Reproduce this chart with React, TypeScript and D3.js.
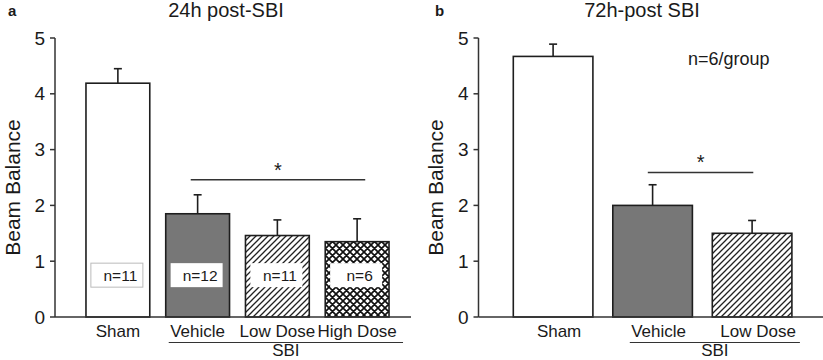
import React from "react";
import * as d3 from "d3";

const panelACategories = ["Sham", "Vehicle", "Low Dose", "High Dose"];
const panelAMeans = [4.19, 1.85, 1.46, 1.35];
const panelAErrors = [0.26, 0.34, 0.28, 0.41];
const panelANLabels = ["n=11", "n=12", "n=11", "n=6"];
const panelAFills = ["white", "gray", "hatch", "cross"];

const panelBCategories = ["Sham", "Vehicle", "Low Dose"];
const panelBMeans = [4.67, 2.0, 1.5];
const panelBErrors = [0.22, 0.37, 0.23];
const panelBFills = ["white", "gray", "hatch"];

const yTicks = [0, 1, 2, 3, 4, 5];

const fillOf = (f: string) =>
  f === "white" ? "#ffffff" : f === "gray" ? "#777777" : f === "hatch" ? "url(#hatch)" : "url(#cross)";

const FONT = "Arial, 'Liberation Sans', Helvetica, sans-serif";
const STROKE = "#1e1e1e";

type PanelProps = {
  letter: string;
  title: string;
  titleX: number;
  axisX: number;
  axisEnd: number;
  bandRange: [number, number];
  paddingOuter: number;
  cats: string[];
  means: number[];
  errors: number[];
  fills: string[];
  nLabels?: string[];
  labelShift: number;
  sig: { from: number; to: number; level: number };
  sbi: { from: number; to: number };
  yLabelX: number;
  letterX: number;
};

function Panel(p: PanelProps) {
  const y = d3.scaleLinear().domain([0, 5]).range([317, 38]);
  const x = d3
    .scaleBand<string>()
    .domain(p.cats)
    .range(p.bandRange)
    .paddingInner(0.2)
    .paddingOuter(p.paddingOuter);
  const bw = x.bandwidth();
  const first = p.cats[1];
  const last = p.cats[p.cats.length - 1];
  const sigX1 = (x(first) as number) + p.sig.from;
  const sigX2 = (x(last) as number) + p.sig.to;
  const sbiX1 = (x(first) as number) + p.sbi.from;
  const sbiX2 = (x(last) as number) + bw + p.sbi.to;
  const yMid = (y(0) + y(5)) / 2;
  return (
    <g fontFamily={FONT} fill="#1a1a1a">
      <text x={p.letterX} y={16} fontSize={15} fontWeight="bold">{p.letter}</text>
      <text x={p.titleX} y={17} fontSize={20} textAnchor="middle">{p.title}</text>
      <text
        transform={`translate(${p.yLabelX},${yMid + 10}) rotate(-90)`}
        fontSize={21}
        textAnchor="middle"
      >
        Beam Balance
      </text>
      {/* y axis */}
      <line x1={p.axisX} x2={p.axisX} y1={y(5)} y2={y(0)} stroke="#333" strokeWidth={1.5} />
      {yTicks.map((t) => (
        <g key={t}>
          <line x1={p.axisX - 5} x2={p.axisX} y1={y(t)} y2={y(t)} stroke="#333" strokeWidth={1.5} />
          <text x={p.axisX - 10} y={y(t) + 6.5} fontSize={19} textAnchor="end">{t}</text>
        </g>
      ))}
      {/* bars */}
      {p.cats.map((c, i) => {
        const bx = x(c) as number;
        const cx = bx + bw / 2;
        return (
          <g key={c}>
            <line x1={cx} x2={cx} y1={y(p.means[i])} y2={y(p.means[i] + p.errors[i])} stroke={STROKE} strokeWidth={1.6} />
            <line x1={cx - 4} x2={cx + 4} y1={y(p.means[i] + p.errors[i])} y2={y(p.means[i] + p.errors[i])} stroke={STROKE} strokeWidth={1.6} />
            <rect
              x={bx}
              y={y(p.means[i])}
              width={bw}
              height={y(0) - y(p.means[i])}
              fill={fillOf(p.fills[i])}
              stroke={STROKE}
              strokeWidth={1.6}
            />
            <text x={cx + p.labelShift} y={336.5} fontSize={17} textAnchor="middle">{c}</text>
          </g>
        );
      })}
      {p.nLabels &&
        p.cats.map((c, i) => {
          const cx = (x(c) as number) + bw / 2;
          return (
            <g key={"n" + c}>
              <rect
                x={cx - 27}
                y={y(0.75) - 12}
                width={52}
                height={24}
                fill="#fff"
                stroke={i === 0 ? "#bbbbbb" : "none"}
                strokeWidth={1}
              />
              <text x={cx + 2.5} y={y(0.75) + 6} fontSize={15.5} textAnchor="middle">{p.nLabels![i]}</text>
            </g>
          );
        })}
      {/* x axis */}
      <line x1={p.axisX} x2={p.axisEnd} y1={y(0)} y2={y(0)} stroke="#333" strokeWidth={1.5} />
      {/* SBI bracket */}
      <line x1={sbiX1} x2={sbiX2} y1={342.5} y2={342.5} stroke="#333" strokeWidth={1.2} />
      <text x={(sbiX1 + sbiX2) / 2} y={356} fontSize={17} textAnchor="middle">SBI</text>
      {/* significance */}
      <line x1={sigX1} x2={sigX2} y1={y(p.sig.level)} y2={y(p.sig.level)} stroke="#333" strokeWidth={1.5} />
      <text x={(sigX1 + sigX2) / 2} y={y(p.sig.level) - 3} fontSize={20} textAnchor="middle">*</text>
    </g>
  );
}

export default function App() {
  return (
    <svg
      width={823}
      height={360}
      style={{ position: "absolute", left: 0, top: 0, background: "#fff" }}
    >
      <defs>
        <pattern id="hatch" patternUnits="userSpaceOnUse" width={6} height={6}>
          <rect width={6} height={6} fill="#fff" />
          <path d="M-1,1 l2,-2 M0,6 l6,-6 M5,7 l2,-2" stroke="#222" strokeWidth={1.3} />
        </pattern>
        <pattern id="cross" patternUnits="userSpaceOnUse" width={7} height={7}>
          <rect width={7} height={7} fill="#fff" />
          <path d="M-1,1 l2,-2 M0,7 l7,-7 M6,8 l2,-2 M-1,6 l2,2 M0,0 l7,7 M6,-1 l2,2" stroke="#111" strokeWidth={1.7} />
        </pattern>
      </defs>
      <Panel
        letter="a"
        title="24h post-SBI"
        titleX={226}
        axisX={55}
        axisEnd={411}
        bandRange={[78, 397]}
        paddingOuter={0.1}
        cats={panelACategories}
        means={panelAMeans}
        errors={panelAErrors}
        fills={panelAFills}
        nLabels={panelANLabels}
        labelShift={0}
        sig={{ from: 25, to: 40, level: 2.46 }}
        sbi={{ from: 3, to: 14 }}
        yLabelX={20}
        letterX={8}
      />
      <Panel
        letter="b"
        title="72h-post SBI"
        titleX={642}
        axisX={478.5}
        axisEnd={823}
        bandRange={[493.4, 811.8]}
        paddingOuter={0.2}
        cats={panelBCategories}
        means={panelBMeans}
        errors={panelBErrors}
        fills={panelBFills}
        labelShift={6}
        sig={{ from: 35, to: 41, level: 2.59 }}
        sbi={{ from: 17, to: 8 }}
        yLabelX={443}
        letterX={435}
      />
      <text x={688} y={65} fontSize={18} fontFamily={FONT} fill="#1a1a1a">n=6/group</text>
    </svg>
  );
}
